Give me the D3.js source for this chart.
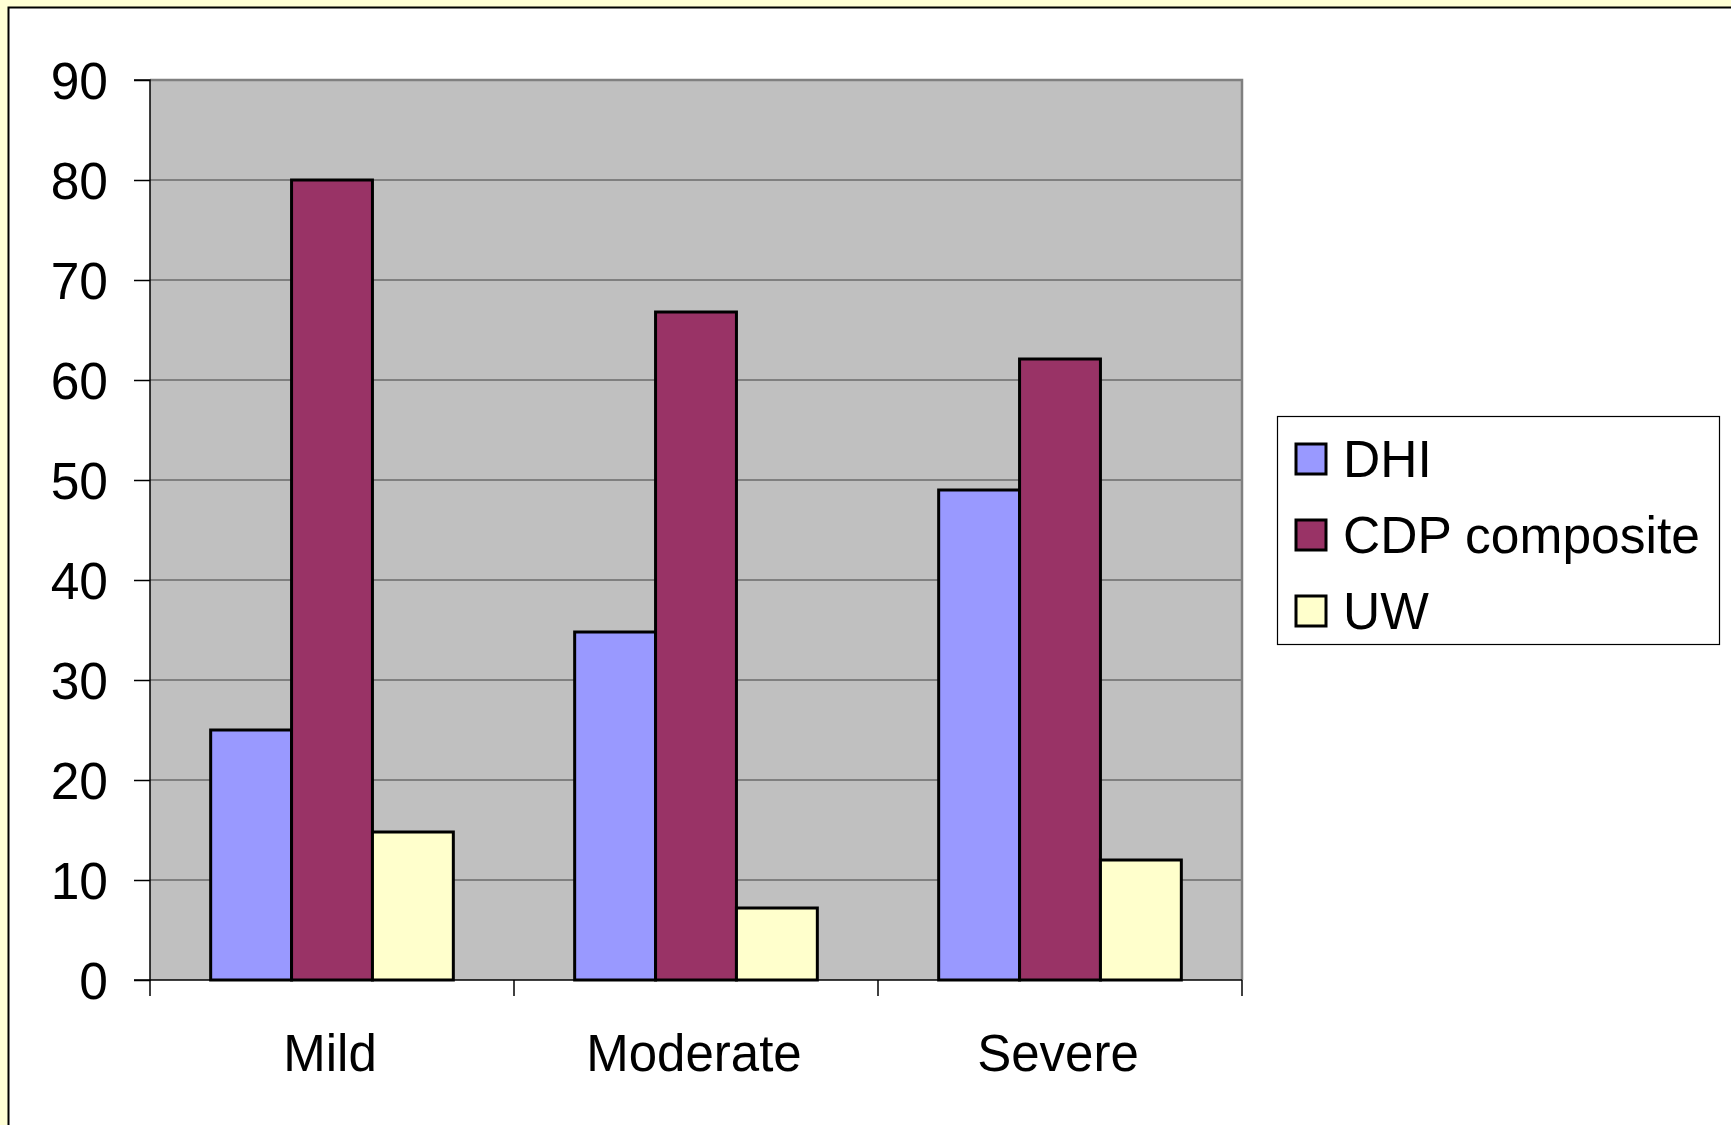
<!DOCTYPE html>
<html><head><meta charset="utf-8">
<script src="https://cdn.jsdelivr.net/npm/d3@7"></script>
<style>html,body{margin:0;padding:0;background:#FFFFD5;overflow:hidden}</style>
</head><body>
<svg id="c" width="1731" height="1125"></svg>
<script>
const categories = ["Mild", "Moderate", "Severe"];
const seriesNames = ["DHI", "CDP composite", "UW"];
const dhi = [25, 34.8, 49];
const cdp = [80, 66.8, 62.1];
const uw = [14.8, 7.2, 12];
const yTicks = [0, 10, 20, 30, 40, 50, 60, 70, 80, 90];
const colors = ["#9999FF", "#993366", "#FFFFCC"];
const seriesValues = [dhi, cdp, uw];

const svg = d3.select("#c");
const font = "'Liberation Sans', Arial, sans-serif";

// outer panel
svg.append("rect").attr("x", 0).attr("y", 0).attr("width", 1731).attr("height", 1125).attr("fill", "#FFFFD5");
svg.append("rect").attr("x", 8.5).attr("y", 7.5).attr("width", 1740).attr("height", 1140)
  .attr("fill", "#fff").attr("stroke", "#000").attr("stroke-width", 2);

const L = 150, R = 1242, T = 80, B = 980;
const x0 = d3.scaleBand().domain(categories).range([L, R]).paddingInner(0).paddingOuter(0);
const x1 = d3.scaleBand().domain(seriesNames).range([0, x0.bandwidth()]).paddingInner(0).paddingOuter(0.75);
const y = d3.scaleLinear().domain([0, 90]).range([B, T]);

// plot background
svg.append("rect").attr("x", L).attr("y", T).attr("width", R - L).attr("height", B - T).attr("fill", "#C0C0C0");

// gridlines
svg.append("g").selectAll("line").data(yTicks.filter(d => d > 0 && d < 90)).join("line")
  .attr("x1", L).attr("x2", R).attr("y1", d => y(d)).attr("y2", d => y(d))
  .attr("stroke", "#404040").attr("stroke-width", 1.2);

// plot border (top & right)
svg.append("path").attr("d", `M${L},${T}H${R}V${B}`).attr("fill", "none").attr("stroke", "#808080").attr("stroke-width", 2.5);

// bars
const groups = svg.append("g").selectAll("g").data(categories).join("g")
  .attr("transform", d => `translate(${x0(d)},0)`);
groups.selectAll("rect").data((c, i) => seriesNames.map((s, j) => ({s, v: seriesValues[j][i], j}))).join("rect")
  .attr("x", d => x1(d.s)).attr("width", x1.bandwidth())
  .attr("y", d => y(d.v)).attr("height", d => B - y(d.v))
  .attr("fill", d => colors[d.j]).attr("stroke", "#000").attr("stroke-width", 3);

// y axis
const yAxis = d3.axisLeft(y).tickValues(yTicks).tickSize(16).tickPadding(26).tickFormat(d3.format("d"));
const ya = svg.append("g").attr("transform", `translate(${L},0)`).call(yAxis);
ya.select(".domain").attr("stroke", "#000").attr("stroke-width", 1.5).attr("d", `M-16,${B}H0V${T}H-16`);
ya.selectAll(".tick line").attr("stroke", "#000").attr("stroke-width", 1.5);
ya.selectAll(".tick text").attr("font-family", font).attr("font-size", 51.5).attr("fill", "#000").attr("dy", "0.35em");

// x axis
const xa = svg.append("g").attr("transform", `translate(0,${B})`);
xa.append("line").attr("x1", L).attr("x2", R).attr("y1", 0).attr("y2", 0).attr("stroke", "#000").attr("stroke-width", 1.5);
const bounds = [L].concat(categories.map(c => x0(c) + x0.bandwidth()));
xa.selectAll("line.tk").data(bounds).join("line").attr("class", "tk")
  .attr("x1", d => d).attr("x2", d => d).attr("y1", 0).attr("y2", 16).attr("stroke", "#000").attr("stroke-width", 1.5);
xa.selectAll("text").data(categories).join("text")
  .attr("x", d => x0(d) + x0.bandwidth() / 2 - 2).attr("y", 91)
  .attr("text-anchor", "middle").attr("font-family", font).attr("font-size", 51).attr("fill", "#000").text(d => d);

// legend
const lg = svg.append("g");
lg.append("rect").attr("x", 1277.5).attr("y", 416.5).attr("width", 442).attr("height", 228)
  .attr("fill", "#fff").attr("stroke", "#000").attr("stroke-width", 1.2);
const rows = lg.selectAll("g").data(seriesNames).join("g")
  .attr("transform", (d, i) => `translate(0,${459 + i * 76})`);
rows.append("rect").attr("x", 1296).attr("y", -15).attr("width", 30).attr("height", 30)
  .attr("fill", (d, i) => colors[i]).attr("stroke", "#000").attr("stroke-width", 3);
rows.append("text").attr("x", 1343).attr("y", 18).attr("font-family", font).attr("font-size", 51.5).attr("fill", "#000").text(d => d);
</script>
</body></html>
